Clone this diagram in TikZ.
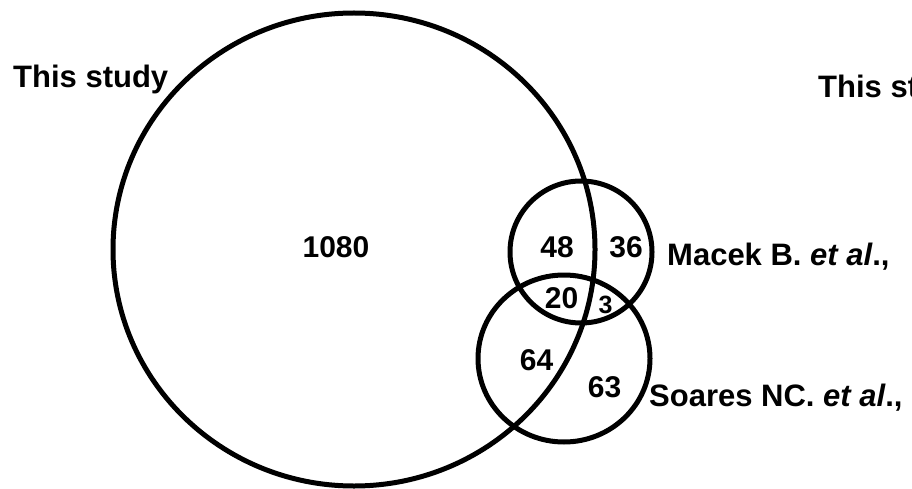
\documentclass[tikz,border=0pt]{standalone}
\usepackage{fontspec}
\setmainfont{Liberation Sans}
\usetikzlibrary{shapes.geometric}
\begin{document}
\begin{tikzpicture}[x=1pt,y=-1pt,
  setring/.style={draw=black,line width=5pt,ellipse,inner sep=0pt,fill=none},
  count/.style={anchor=base,inner sep=0pt,font=\bfseries\fontsize{30}{30}\selectfont},
  small count/.style={count,font=\bfseries\fontsize{25}{25}\selectfont},
  setlabel/.style={anchor=base west,inner sep=0pt,font=\bfseries\fontsize{31}{31}\selectfont}]
  \clip (0,0) rectangle (912,489);
  \fill[white] (0,0) rectangle (912,489);
  % the three sets
  \node[setring,minimum width=482pt,minimum height=473pt] (study) at (354,249.5) {};
  \node[setring,minimum width=142pt,minimum height=142pt] (macek) at (581,252) {};
  \node[setring,minimum width=172pt,minimum height=167pt] (soares) at (564,358.5) {};
  % region counts
  \node[count] (n1080) at (336,257) {1080};
  \node[count] (n48) at (557,257) {48};
  \node[count] (n36) at (626,257) {36};
  \node[count] (n20) at (561.5,308) {20};
  \node[small count] (n3) at (605.5,313) {3};
  \node[count] (n64) at (536.5,370) {64};
  \node[count] (n63) at (604.5,397) {63};
  % set names
  \node[setlabel] (lstudy) at (13,88) {This study};
  \node[setlabel] (rstudy) at (818,98) {This study};
  \node[setlabel] (lmacek) at (667,265) {Macek B. \textit{et al}.,};
  \node[setlabel] (lsoares) at (649,406) {Soares NC. \textit{et al}.,};
\end{tikzpicture}
\end{document}
